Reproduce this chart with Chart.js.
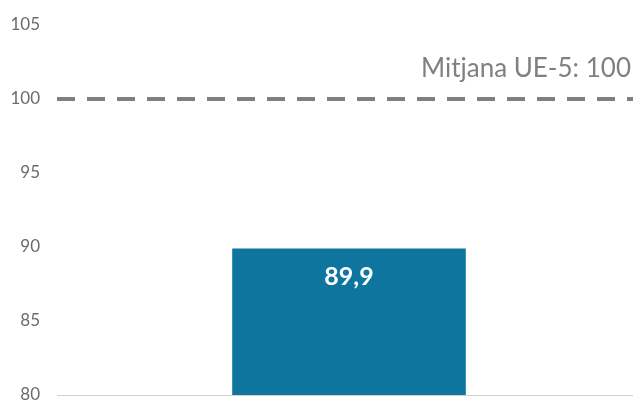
<!DOCTYPE html>
<html>
<head>
<meta charset="utf-8">
<script src="https://cdn.jsdelivr.net/npm/chart.js@4"></script>
<style>
  html, body { margin: 0; padding: 0; background: #fff; }
  #wrap { width: 633px; height: 400px; position: relative; }
</style>
</head>
<body>
<div id="wrap"><canvas id="chart"></canvas></div>
<script>
// Chart data
const categories = [''];
const values = [89.9];
const yTicks = [80, 85, 90, 95, 100, 105];
const refValue = 100;
const refLabel = 'Mitjana UE-5: 100';

// Reference line (EU-5 average) drawn against the y scale
const refLinePlugin = {
    id: 'refLine',
    afterDatasetsDraw(chart) {
        const { ctx, chartArea, scales } = chart;
        const y = scales.y.getPixelForValue(refValue);
        ctx.save();
        ctx.strokeStyle = '#7f7f7f';
        ctx.lineWidth = 4;
        ctx.setLineDash([18, 12]);
        ctx.beginPath();
        ctx.moveTo(chartArea.left, y);
        ctx.lineTo(chartArea.right, y);
        ctx.stroke();
        ctx.setLineDash([]);
        ctx.fillStyle = '#808080';
        ctx.font = '26px Lato';
        ctx.textAlign = 'right';
        ctx.textBaseline = 'alphabetic';
        ctx.fillText(refLabel, chart.width - 2, y - 22);
        ctx.restore();
    }
};

// Value label inside the bar
const barLabelPlugin = {
    id: 'barLabel',
    afterDatasetsDraw(chart) {
        const { ctx } = chart;
        const meta = chart.getDatasetMeta(0);
        ctx.save();
        ctx.fillStyle = '#ffffff';
        ctx.font = 'bold 25px Lato';
        ctx.textAlign = 'center';
        ctx.textBaseline = 'middle';
        meta.data.forEach((bar, i) => {
            const txt = values[i].toFixed(1).replace('.', ',');
            ctx.fillText(txt, bar.x, bar.y + 28);
        });
        ctx.restore();
    }
};

// the bar sits a bit right of centre in the original, widen the x range past the edge
const shiftXPlugin = {
    id: 'shiftX',
    afterLayout(chart) {
        const x = chart.scales.x;
        x.right += 8;
        x.width += 8;
        x.configure();
    }
};

new Chart(document.getElementById('chart'), {
    type: 'bar',
    data: {
        labels: categories,
        datasets: [{
            data: values,
            backgroundColor: '#0e759e',
            borderWidth: 0,
            barPercentage: 1,
            categoryPercentage: 0.4
        }]
    },
    options: {
        responsive: true,
        maintainAspectRatio: false,
        animation: false,
        layout: { padding: { top: 25, bottom: 5, left: 0, right: 0 } },
        plugins: {
            legend: { display: false },
            tooltip: { enabled: false }
        },
        scales: {
            x: { display: false },
            y: {
                min: yTicks[0],
                max: yTicks[yTicks.length - 1],
                afterBuildTicks(scale) {
                    scale.ticks = yTicks.map(v => ({ value: v }));
                },
                afterFit(scale) {
                    scale.width = 57;
                    scale.paddingTop = 0;
                    scale.paddingBottom = 0;
                },
                border: { display: false },
                grid: {
                    drawTicks: false,
                    color: ctx => ctx.tick && ctx.tick.value === yTicks[0] ? '#d0d0d0' : 'rgba(0,0,0,0)',
                    lineWidth: 1
                },
                ticks: {
                    padding: 17,
                    color: '#6b6b6b',
                    font: { family: 'Lato', size: 17 }
                }
            }
        }
    },
    plugins: [refLinePlugin, barLabelPlugin, shiftXPlugin]
});
</script>
</body>
</html>
